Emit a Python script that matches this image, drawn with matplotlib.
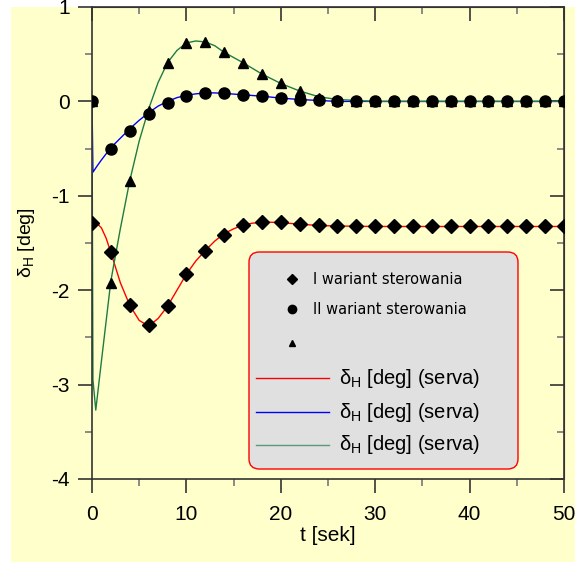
import matplotlib
matplotlib.use("Agg")
import matplotlib.pyplot as plt
from matplotlib.lines import Line2D
from matplotlib.patches import FancyBboxPatch, Rectangle
from matplotlib.ticker import MultipleLocator

plt.rcParams['font.family'] = ['Liberation Sans', 'DejaVu Sans']
plt.rcParams['mathtext.fontset'] = 'custom'
plt.rcParams['mathtext.rm'] = 'Liberation Sans'
plt.rcParams['mathtext.it'] = 'Liberation Sans:italic'
plt.rcParams['axes.unicode_minus'] = False

# punkty pomiarowe co 2 s
t_mk = list(range(0, 51, 2))
wariant_1 = [-1.29, -1.60, -2.16, -2.37, -2.17, -1.83, -1.58, -1.41, -1.31, -1.28,
             -1.28, -1.30, -1.31, -1.32, -1.32, -1.32, -1.32, -1.32, -1.32, -1.32,
             -1.32, -1.32, -1.32, -1.32, -1.32, -1.32]
wariant_2 = [0.0, -0.50, -0.31, -0.13, -0.02, 0.06, 0.09, 0.09, 0.07, 0.06,
             0.035, 0.02, 0.01, 0.0, 0.0, 0.0, 0.0, 0.0, 0.0, 0.0,
             0.0, 0.0, 0.0, 0.0, 0.0, 0.0]
wariant_3 = [0.0, -1.92, -0.84, -0.10, 0.41, 0.62, 0.63, 0.52, 0.41, 0.29,
             0.19, 0.11, 0.04, 0.01, 0.0, 0.0, 0.0, 0.0, 0.0, 0.0,
             0.0, 0.0, 0.0, 0.0, 0.0, 0.0]

# przebiegi z modelu serwa
t_red = [0, 0.5, 1, 1.5, 2, 3, 4, 5, 6, 7, 8, 9, 10, 11, 12, 13, 14, 15, 16, 17,
         18, 19, 20, 22, 24, 26, 30, 50]
serwo_red = [-1.28, -1.29, -1.34, -1.45, -1.60, -1.92, -2.16, -2.32, -2.38, -2.30,
             -2.17, -2.00, -1.83, -1.69, -1.58, -1.48, -1.40, -1.35, -1.31, -1.29,
             -1.28, -1.28, -1.285, -1.30, -1.315, -1.32, -1.325, -1.325]
t_blue = [0, 0.1, 0.5, 1, 2, 3, 4, 5, 6, 7, 8, 9, 10, 11, 12, 13, 14, 16, 18, 20,
          22, 24, 26, 30, 50]
serwo_blue = [0.0, -0.75, -0.69, -0.62, -0.49, -0.39, -0.29, -0.20, -0.12, -0.05,
              0.0, 0.04, 0.065, 0.08, 0.09, 0.09, 0.085, 0.07, 0.055, 0.035,
              0.02, 0.01, 0.0, 0.0, 0.0]
t_green = [0, 0.1, 0.4, 1, 2, 3, 4, 5, 6, 7, 8, 9, 10, 11, 12, 13, 14, 16, 18, 20,
           22, 24, 26, 28, 30, 50]
serwo_green = [0.0, -2.95, -3.27, -2.75, -1.90, -1.35, -0.84, -0.42, -0.08, 0.20,
               0.41, 0.54, 0.62, 0.64, 0.63, 0.59, 0.52, 0.41, 0.29, 0.19,
               0.11, 0.05, 0.02, 0.01, 0.0, 0.0]

label_1 = 'I wariant sterowania'
label_2 = 'II wariant sterowania'
label_line = r'δ$_{\mathrm{H}}$ [deg] (serva)'

W, H = 578, 562
YELLOW = '#FFFFCC'
SPINE = '#333333'
GREEN = '#1E7B45'


def px(x, y):
    return x / W, 1 - y / H


fig = plt.figure(figsize=(W / 100, H / 100), dpi=100, facecolor='white')
fig.add_artist(Rectangle((11 / W, 0), (575 - 11) / W, 1 - 7 / H,
                         transform=fig.transFigure, facecolor=YELLOW,
                         edgecolor='none', zorder=-10))

x0, y0 = px(92, 479)
x1, y1 = px(564, 7)
ax = fig.add_axes([x0, y0, x1 - x0, y1 - y0], facecolor=YELLOW)

ax.plot(t_red, serwo_red, color='red', lw=1.0, zorder=2)
ax.plot(t_blue, serwo_blue, color='blue', lw=1.0, zorder=2)
ax.plot(t_green, serwo_green, color=GREEN, lw=1.0, zorder=2)
ax.plot(t_mk, wariant_1, 'D', color='black', ms=7.5, ls='none', zorder=3)
ax.plot(t_mk, wariant_3, '^', color='black', ms=7.5, ls='none', zorder=3)
ax.plot(t_mk, wariant_2, 'o', color='black', ms=8, ls='none', zorder=3)

ax.set_xlim(0, 50)
ax.set_ylim(-4, 1)
ax.xaxis.set_major_locator(MultipleLocator(10))
ax.xaxis.set_minor_locator(MultipleLocator(5))
ax.yaxis.set_major_locator(MultipleLocator(1))
ax.yaxis.set_minor_locator(MultipleLocator(0.5))
for s in ax.spines.values():
    s.set_color(SPINE)
    s.set_linewidth(1.2)
ax.tick_params(which='both', direction='out', color=SPINE, width=1.2,
               labelsize=15, top=False, right=False)
ax.tick_params(which='major', length=10)
ax.tick_params(which='minor', length=5, color='#777777')
ax.tick_params(axis='x', pad=9)
ax.tick_params(axis='y', pad=6)

# znaczniki wewnętrzne na górnej i prawej osi
top = ax.secondary_xaxis('top')
top.xaxis.set_major_locator(MultipleLocator(10))
top.xaxis.set_minor_locator(MultipleLocator(5))
top.tick_params(which='both', direction='in', color=SPINE, width=1.2, labeltop=False)
top.tick_params(which='major', length=10)
top.tick_params(which='minor', length=5, color='#777777')
top.spines['top'].set_color(SPINE)
right = ax.secondary_yaxis('right')
right.yaxis.set_major_locator(MultipleLocator(1))
right.yaxis.set_minor_locator(MultipleLocator(0.5))
right.tick_params(which='both', direction='in', color=SPINE, width=1.2, labelright=False)
right.tick_params(which='major', length=10)
right.tick_params(which='minor', length=5, color='#777777')
right.spines['right'].set_color(SPINE)

ax.set_xlabel('t [sek]', fontsize=15, labelpad=1)
ax.set_ylabel(r'δ$_{\mathrm{H}}$ [deg]', fontsize=14, labelpad=10)

# legenda rysowana ręcznie
lx0, ly0 = px(249, 469)
lx1, ly1 = px(518, 252)
fig.add_artist(FancyBboxPatch((lx0, ly0), lx1 - lx0, ly1 - ly0,
                              boxstyle='round,pad=0,rounding_size=0.018',
                              transform=fig.transFigure, facecolor='#E0E0E0',
                              edgecolor='red', lw=1.0, zorder=5))

for marker, ms, ypix, text in [('D', 5, 279, label_1), ('o', 6, 309, label_2),
                               ('^', 5, 343, '')]:
    mx, my = px(292, ypix)
    fig.add_artist(Line2D([mx], [my], marker=marker, ms=ms, color='black',
                          ls='none', transform=fig.transFigure, zorder=6))
    tx, ty = px(313, ypix)
    fig.text(tx, ty, text, fontsize=10.5, family='DejaVu Sans', va='center',
             ha='left', zorder=6)

for color, ypix in [('red', 378), ('blue', 412), ('#5A9A78', 445)]:
    ax0, ay = px(256, ypix)
    ax1, _ = px(329, ypix)
    fig.add_artist(Line2D([ax0, ax1], [ay, ay], color=color, lw=1.0,
                          transform=fig.transFigure, zorder=6))
    tx, ty = px(339, ypix)
    fig.text(tx, ty, label_line, fontsize=14.5, va='center', ha='left', zorder=6)

fig.savefig('out.png', dpi=100, facecolor=fig.get_facecolor())
